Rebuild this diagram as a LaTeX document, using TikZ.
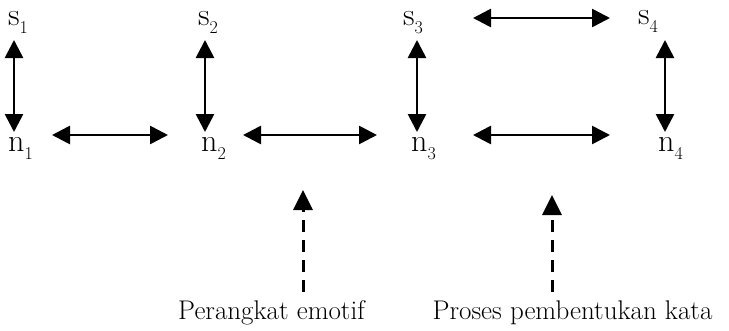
\documentclass[tikz,border=0pt]{standalone}
\usetikzlibrary{arrows.meta}
\newcommand{\symlab}[2]{#1\raisebox{-8pt}{\fontsize{18}{18}\selectfont #2}}
\tikzset{
  sym/.style={inner sep=0pt, anchor=base west, font=\fontsize{32}{32}\selectfont},
  caption/.style={inner sep=0pt, anchor=base, font=\fontsize{27}{30}\selectfont},
  dbl/.style={line width=2.7pt, {Triangle[length=18pt,width=18pt]}-{Triangle[length=18pt,width=18pt]}},
  dasharr/.style={line width=3pt, dash pattern=on 12pt off 8pt, -{Triangle[length=20pt,width=19pt]}}
}
\begin{document}
\begin{tikzpicture}[x=1pt,y=-1pt]
\useasboundingbox (0,0) rectangle (729,330);
\node[sym] (s1) at (8,25) {\symlab{s}{1}};
\node[sym] (n1) at (8,151) {\symlab{n}{1}};
\node[sym] (s2) at (198,25) {\symlab{s}{2}};
\node[sym] (n2) at (201,151) {\symlab{n}{2}};
\node[sym] (s3) at (403,25) {\symlab{s}{3}};
\node[sym] (n3) at (411,151) {\symlab{n}{3}};
\node[sym] (s4) at (638,24) {\symlab{s}{4}};
\node[sym] (n4) at (658,151) {\symlab{n}{4}};
\node[caption] (c1) at (271.5,319) {Perangkat emotif};
\node[caption] (c2) at (572.5,319) {Proses pembentukan kata};
\coordinate (t1) at (303,190);
\coordinate (t2) at (552,195);
% vertical
\draw[dbl] ([shift={(6,15)}]s1.base west) -- ([shift={(6,-19)}]n1.base west);
\draw[dbl] ([shift={(7,15)}]s2.base west) -- ([shift={(4,-19)}]n2.base west);
\draw[dbl] ([shift={(14,15)}]s3.base west) -- ([shift={(6,-19)}]n3.base west);
\draw[dbl] ([shift={(27,16)}]s4.base west) -- ([shift={(7,-19)}]n4.base west);
% horizontal
\draw[dbl] ([shift={(44,-16)}]n1.base west) -- ([shift={(-33,-16)}]n2.base west);
\draw[dbl] ([shift={(42,-16)}]n2.base west) -- ([shift={(-34,-16)}]n3.base west);
\draw[dbl] ([shift={(62,-16)}]n3.base west) -- ([shift={(-48,-16)}]n4.base west);
\draw[dbl] ([shift={(70,-7)}]s3.base west) -- ([shift={(-28,-6)}]s4.base west);
% dashed
\draw[dasharr] ([shift={(31.5,-27)}]c1.base) -- (t1);
\draw[dasharr] ([shift={(-20.5,-27)}]c2.base) -- (t2);
\end{tikzpicture}
\end{document}
